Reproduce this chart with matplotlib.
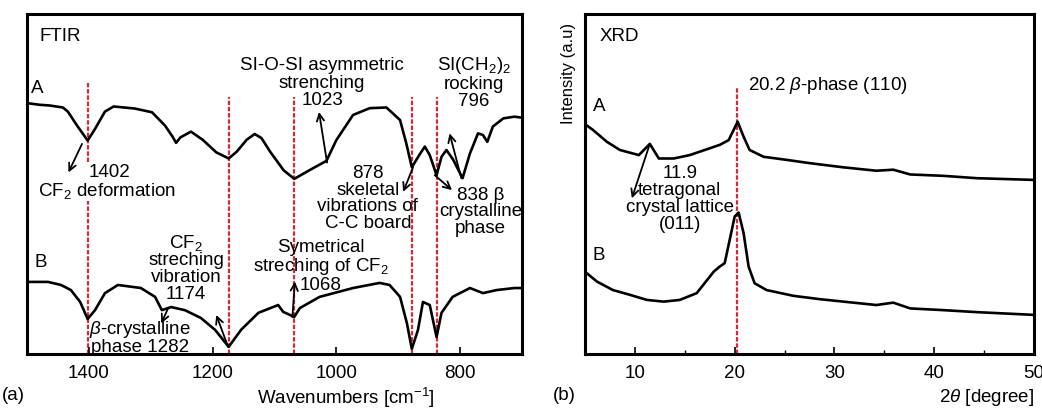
import matplotlib
matplotlib.use("Agg")
import matplotlib.pyplot as plt

plt.rcParams['font.family'] = ['Liberation Sans', 'DejaVu Sans']
plt.rcParams['mathtext.fontset'] = 'custom'
plt.rcParams['mathtext.rm'] = 'Liberation Sans'
plt.rcParams['mathtext.it'] = 'Liberation Sans:italic'

# FTIR spectra (wavenumber cm-1, transmittance a.u.)
ftir_wn_A = [1500, 1480, 1464, 1442, 1434, 1418, 1402, 1391, 1374, 1360,
             1326, 1298, 1277, 1265, 1259, 1252, 1235, 1216, 1194, 1174,
             1161, 1145, 1132, 1121, 1107, 1085, 1068, 1043, 1016, 1000,
             973, 946, 919, 897, 887, 878, 866, 857, 849, 838,
             830, 822, 811, 796, 784, 771, 763, 756, 747, 730,
             712, 700]
ftir_A = [73.8, 73.3, 73.1, 72.5, 71.3, 66.9, 62.8, 65.9, 71.3, 72.8,
          72.2, 71.1, 67.2, 64.0, 62.1, 63.7, 65.4, 63.0, 59.3, 57.5,
          59.5, 63.0, 64.7, 63.5, 59.5, 54.0, 51.5, 54.1, 56.8, 62.9,
          70.3, 72.3, 72.5, 68.8, 62.0, 54.9, 58.5, 61.0, 58.5, 52.6,
          58.0, 60.0, 57.1, 51.7, 59.0, 64.9, 64.4, 62.4, 66.9, 69.3,
          69.8, 69.5]
ftir_wn_B = [1500, 1466, 1445, 1429, 1414, 1402, 1390, 1374, 1353, 1316,
             1293, 1282, 1267, 1245, 1219, 1196, 1174, 1154, 1126, 1094,
             1086, 1068, 1059, 1027, 973, 930, 914, 897, 886, 878,
             868, 860, 849, 838, 830, 812, 784, 763, 741, 712,
             700]
ftir_B = [21.2, 21.2, 20.3, 18.8, 15.3, 10.3, 12.9, 17.9, 20.3, 19.4,
          16.8, 12.9, 13.8, 12.9, 10.6, 7.1, 2.1, 7.1, 12.1, 14.4,
          12.4, 10.9, 13.5, 16.8, 19.4, 20.9, 20.3, 16.8, 9.1, 1.5,
          7.1, 15.3, 14.4, 5.0, 12.1, 16.8, 19.4, 17.9, 18.8, 19.4,
          19.4]
ftir_peaks = [1174, 1068, 878, 838]

# XRD patterns (2theta degree, intensity a.u.)
xrd_tt_A = [5.0, 5.8, 7.2, 8.5, 10.4, 11.5, 12.4, 13.9, 15.5, 17.2,
            18.5, 19.4, 20.3, 20.9, 21.5, 22.9, 25.2, 27.6, 30.9, 34.2,
            35.9, 37.6, 40.9, 44.3, 50.0]
xrd_A = [67.6, 65.9, 62.4, 60.0, 58.5, 61.8, 57.5, 57.5, 58.5, 60.2,
         61.5, 62.9, 68.3, 63.9, 60.0, 58.0, 57.1, 56.1, 54.9, 53.9,
         54.2, 52.8, 52.4, 51.7, 51.2]
xrd_tt_B = [5.0, 6.2, 7.8, 9.5, 11.2, 12.9, 14.5, 16.2, 17.9, 18.5,
            19.0, 19.5, 20.0, 20.4, 20.9, 21.4, 22.0, 23.2, 25.9, 28.6,
            30.9, 34.2, 35.9, 37.6, 40.9, 44.3, 50.0]
xrd_B = [24.2, 21.3, 18.8, 17.4, 15.9, 15.4, 15.9, 17.9, 24.2, 25.7,
         26.7, 33.5, 40.4, 41.6, 35.5, 25.7, 20.8, 18.8, 17.1, 16.1,
         15.4, 14.4, 15.1, 13.4, 12.9, 12.3, 11.5]
xrd_peak = 20.2

red = '#d42a3c'
fs = 13.5
arrow = dict(arrowstyle='->', color='black', lw=1.3, shrinkA=0, shrinkB=0,
             mutation_scale=13)

fig = plt.figure(figsize=(10.42, 4.08), dpi=100)
ax1 = fig.add_axes([0.0259, 0.1324, 0.475, 0.8333])
ax2 = fig.add_axes([0.5614, 0.1324, 0.4309, 0.8333])

# ---- FTIR ----
for p in ftir_peaks:
    ax1.plot([p, p], [0, 75.5], color=red, lw=1.6, ls=(0, (2, 0.8)), zorder=1)
ax1.plot([1402, 1402], [0, 45], color=red, lw=1.6, ls=(0, (2, 0.8)), zorder=1)
ax1.plot([1402, 1402], [56.5, 80.1], color=red, lw=1.6, ls=(0, (2, 0.8)), zorder=1)
ax1.plot(ftir_wn_A, ftir_A, color='black', lw=1.9, zorder=2)
ax1.plot(ftir_wn_B, ftir_B, color='black', lw=1.9, zorder=2)
ax1.set_xlim(1500, 700)
ax1.set_ylim(0, 100)
ax1.set_xticks([1400, 1200, 1000, 800])
ax1.set_yticks([])

ax1.text(1479, 93.5, 'FTIR', fontsize=fs, va='center')
ax1.text(1494, 78.1, 'A', fontsize=fs, va='center')
ax1.text(1488, 26.9, 'B', fontsize=fs, va='center')
ax1.text(1400, 53.4, '1402', fontsize=fs, va='center')
ax1.text(1482, 47.8, 'CF$_2$ deformation', fontsize=fs, va='center')
ax1.text(1023, 79.7, 'SI-O-SI asymmetric\nstrenching\n1023', fontsize=fs,
         ha='center', va='center', linespacing=1.02)
ax1.text(778, 79.9, 'SI(CH$_2$)$_2$\nrocking\n796', fontsize=fs,
         ha='center', va='center', linespacing=0.98)
ax1.text(949, 45.7, '878\nskeletal\nvibrations of\nC-C board', fontsize=fs,
         ha='center', va='center', linespacing=0.98)
ax1.text(767, 41.8, '838 β\ncrystalline\nphase', fontsize=fs,
         ha='center', va='center', linespacing=0.98)
ax1.text(1243, 25.4, 'CF$_2$\nstreching\nvibration\n1174', fontsize=fs,
         ha='center', va='center', linespacing=0.98)
ax1.text(1317, 4.8, '$\\beta$-crystalline\nphase 1282', fontsize=fs,
         ha='center', va='center', linespacing=0.92)
ax1.text(1025, 25.7, 'Symetrical\nstreching of CF$_2$\n1068', fontsize=fs,
         ha='center', va='center', linespacing=0.98)

ax1.annotate('', xy=(1433, 53.4), xytext=(1411, 61.8), arrowprops=arrow)
ax1.annotate('', xy=(1028, 71.2), xytext=(1015, 56.3), arrowprops=arrow)
ax1.annotate('', xy=(817, 64.9), xytext=(798, 51.7), arrowprops=arrow)
ax1.annotate('', xy=(892, 47.7), xytext=(876, 54.9), arrowprops=arrow)
ax1.annotate('', xy=(813, 48.2), xytext=(841, 52.6), arrowprops=arrow)
ax1.annotate('', xy=(1194, 11.5), xytext=(1175, 2.1), arrowprops=arrow)
ax1.annotate('', xy=(1283, 9.0), xytext=(1272, 13.4), arrowprops=arrow)
ax1.annotate('', xy=(1067, 21.3), xytext=(1071, 10.8), arrowprops=arrow)

# ---- XRD ----
ax2.plot([xrd_peak, xrd_peak], [0, 78.5], color=red, lw=1.6, ls=(0, (2, 0.8)), zorder=1)
ax2.plot(xrd_tt_A, xrd_A, color='black', lw=1.9, zorder=2)
ax2.plot(xrd_tt_B, xrd_B, color='black', lw=1.9, zorder=2)
ax2.set_xlim(5, 50)
ax2.set_ylim(0, 100)
ax2.set_xticks([10, 20, 30, 40, 50])
ax2.set_xticks([15, 25, 35, 45], minor=True)
ax2.set_yticks([])

ax2.text(6.5, 93.5, 'XRD', fontsize=fs, va='center')
ax2.text(5.8, 72.9, 'A', fontsize=fs, va='center')
ax2.text(5.8, 29.1, 'B', fontsize=fs, va='center')
ax2.text(21.3, 79.1, '20.2 $\\beta$-phase (110)', fontsize=fs, va='center')
ax2.text(14.5, 45.6, '11.9\ntetragonal\ncrystal lattice\n(011)', fontsize=fs,
         ha='center', va='center', linespacing=0.98)
ax2.annotate('', xy=(9.7, 45.8), xytext=(11.5, 61.8), arrowprops=arrow)

for ax in (ax1, ax2):
    for s in ax.spines.values():
        s.set_linewidth(2.2)
    ax.tick_params(axis='x', which='major', direction='in', length=5, width=1.2,
                   labelsize=fs, pad=8)
    ax.tick_params(axis='x', which='minor', direction='in', length=3, width=1)

fig.text(346 / 1042, 1 - 398 / 408, 'Wavenumbers [cm$^{-1}$]', fontsize=fs,
         ha='center', va='center')
fig.text(1034 / 1042, 1 - 398 / 408, '2$\\theta$ [degree]', fontsize=fs,
         ha='right', va='center')
fig.text(2 / 1042, 1 - 395 / 408, '(a)', fontsize=fs, va='center')
fig.text(553 / 1042, 1 - 395 / 408, '(b)', fontsize=fs, va='center')
fig.text(568 / 1042, 1 - 73 / 408, 'Intensity (a.u)', fontsize=12, rotation=90,
         ha='center', va='center')

fig.savefig('out.png', dpi=100)
